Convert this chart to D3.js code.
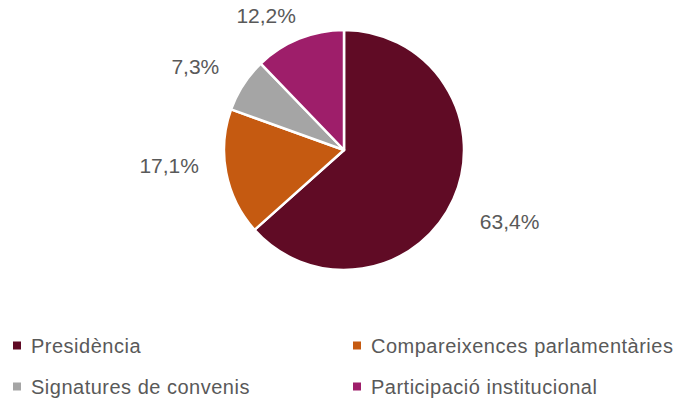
<!DOCTYPE html>
<html>
<head>
<meta charset="utf-8">
<script src="https://cdn.jsdelivr.net/npm/d3@7/dist/d3.min.js"></script>
<style>
  body { margin: 0; background: #fff; }
  svg { display: block; font-family: "Liberation Sans", Arial, sans-serif; }
</style>
</head>
<body>
<div id="chart"></div>
<script>
'use strict';

// data
var categories = ["Presidència", "Compareixences parlamentàries", "Signatures de convenis", "Participació institucional"];
var values = [63.4, 17.1, 7.3, 12.2];
var colors = ["#600b25", "#c55a11", "#a5a5a5", "#9e1e6a"];
var labels = ["63,4%", "17,1%", "7,3%", "12,2%"];

var width = 686,
    height = 403;

var svg = d3.select("#chart").append("svg")
    .attr("width", width)
    .attr("height", height);

var cx = 344, cy = 150, radius = 120;

var pie = d3.pie()
    .sort(null)
    .value(function (d) { return d; });

var arcs = pie(values);

var arc = d3.arc()
    .innerRadius(0)
    .outerRadius(radius);

var g = svg.append("g")
    .attr("transform", "translate(" + cx + "," + cy + ")");

g.selectAll(".slice")
    .data(arcs)
    .enter()
    .append("path")
    .attr("class", "slice")
    .attr("d", arc)
    .style("fill", function (d, i) { return colors[i]; })
    .style("stroke", "#fff")
    .style("stroke-width", 2.5)
    .style("stroke-linejoin", "round");

// outside labels, excel "best fit" style
var labelRadius = [176, 172, 170, 152];
var labelNudge = [[5, 0], [-6, -17], [-6, 9], [-21, 6]];

g.selectAll(".pct")
    .data(arcs)
    .enter()
    .append("text")
    .attr("class", "pct")
    .attr("x", function (d, i) {
        var a = (d.startAngle + d.endAngle) / 2;
        return Math.sin(a) * labelRadius[i] + labelNudge[i][0];
    })
    .attr("y", function (d, i) {
        var a = (d.startAngle + d.endAngle) / 2;
        return -Math.cos(a) * labelRadius[i] + labelNudge[i][1];
    })
    .attr("dy", "0.36em")
    .attr("text-anchor", "middle")
    .style("font-size", "21px")
    .style("fill", "#595959")
    .text(function (d, i) { return labels[i]; });

// legend, two columns
var legend = svg.append("g").selectAll(".legend")
    .data(categories)
    .enter()
    .append("g")
    .attr("class", "legend")
    .attr("transform", function (d, i) {
        return "translate(" + (i % 2 === 0 ? 13 : 353) + "," + (i < 2 ? 345.5 : 386.5) + ")";
    });

legend.append("rect")
    .attr("x", 0)
    .attr("y", -4)
    .attr("width", 8)
    .attr("height", 8)
    .style("fill", function (d, i) { return colors[i]; });

legend.append("text")
    .attr("x", 18)
    .attr("y", 0)
    .attr("dy", "0.36em")
    .style("font-size", "20px")
    .style("letter-spacing", "0.5px")
    .style("fill", "#595959")
    .text(function (d) { return d; });
</script>
</body>
</html>
